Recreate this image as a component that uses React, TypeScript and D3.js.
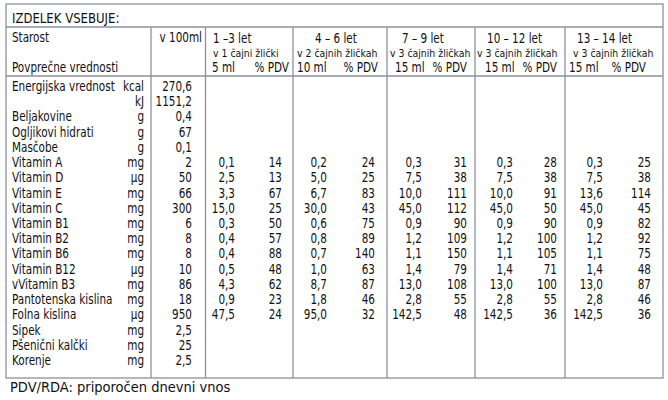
import * as React from "react";
import * as d3 from "d3";

const TITLE = "IZDELEK VSEBUJE:";
const FOOTNOTE = "PDV/RDA: priporočen dnevni vnos";

const NUTRIENTS = [
  "Energijska vrednost", "", "Beljakovine", "Ogljikovi hidrati", "Masčobe",
  "Vitamin A", "Vitamin D", "Vitamin E", "Vitamin C", "Vitamin B1", "Vitamin B2",
  "Vitamin B6", "Vitamin B12", "vVitamin B3", "Pantotenska kislina", "Folna kislina",
  "Sipek", "Pšenični kalčki", "Korenje",
];
const UNITS = [
  "kcal", "kJ", "g", "g", "g", "mg", "µg", "mg", "mg", "mg", "mg",
  "mg", "µg", "mg", "mg", "µg", "mg", "mg", "mg",
];
const PER_100ML = [
  "270,6", "1151,2", "0,4", "67", "0,1", "2", "50", "66", "300", "6", "8",
  "8", "10", "86", "18", "950", "2,5", "25", "2,5",
];

// vitamin rows (Vitamin A .. Folna kislina) start at this row
const FIRST_DOSE_ROW = 5;

const AGE_GROUPS = ["1 –3 let", "4 – 6 let", "7 – 9 let", "10 – 12 let", "13 – 14 let"];
const DOSES = ["v 1 čajni žlički", "v 2 čajnih žličkah", "v 3 čajnih žličkah", "v 3 čajnih žličkah", "v 3 čajnih žličkah"];
const VOLUMES = ["5 ml", "10 ml", "15 ml", "15 ml", "15 ml"];

const AMOUNT_1_3 = ["0,1", "2,5", "3,3", "15,0", "0,3", "0,4", "0,4", "0,5", "4,3", "0,9", "47,5"];
const PDV_1_3 = [14, 13, 67, 25, 50, 57, 88, 48, 62, 23, 24];
const AMOUNT_4_6 = ["0,2", "5,0", "6,7", "30,0", "0,6", "0,8", "0,7", "1,0", "8,7", "1,8", "95,0"];
const PDV_4_6 = [24, 25, 83, 43, 75, 89, 140, 63, 87, 46, 32];
const AMOUNT_7_9 = ["0,3", "7,5", "10,0", "45,0", "0,9", "1,2", "1,1", "1,4", "13,0", "2,8", "142,5"];
const PDV_7_9 = [31, 38, 111, 112, 90, 109, 150, 79, 108, 55, 48];
const AMOUNT_10_12 = ["0,3", "7,5", "10,0", "45,0", "0,9", "1,2", "1,1", "1,4", "13,0", "2,8", "142,5"];
const PDV_10_12 = [28, 38, 91, 50, 90, 100, 105, 71, 100, 55, 36];
const AMOUNT_13_14 = ["0,3", "7,5", "13,6", "45,0", "0,9", "1,2", "1,1", "1,4", "13,0", "2,8", "142,5"];
const PDV_13_14 = [25, 38, 114, 45, 82, 92, 75, 48, 87, 46, 36];

const AMOUNTS = [AMOUNT_1_3, AMOUNT_4_6, AMOUNT_7_9, AMOUNT_10_12, AMOUNT_13_14];
const PDVS = [PDV_1_3, PDV_4_6, PDV_7_9, PDV_10_12, PDV_13_14];

// layout
const W = 668;
const H = 400;
const FONT = "'DejaVu Sans Condensed', 'DejaVu Sans', sans-serif";
const LINE = "#8d90a0";
const box = { left: 6, right: 663, top: 4, bottom: 378 };
const titleY = 27;
const headY = 76;
const colLines = [151, 205.5, 293, 387, 475, 565];
const unitRight = 144;
const per100Right = 192;
// per group: amount right edge, pdv right edge, header line starts
const amountRight = [235, 327, 422, 513, 603];
const pdvRight = [282, 375, 467, 557, 651];
const ageX = [213, 315, 402, 487, 577];
const doseX = [213, 297, 390, 477, 573];
const volX = [212, 297, 395, 485, 569];
const pctRight = [289, 378, 467, 557, 646];

const BODY = 13.8;
const SX = 0.84;

// text squeezed horizontally to mimic the narrow face of the original
function T({ x, y, size = BODY, sx = SX, end = false, children }: {
  x: number; y: number; size?: number; sx?: number; end?: boolean; children: React.ReactNode;
}) {
  return (
    <text
      transform={`translate(${x},${y}) scale(${sx},1)`}
      fontSize={size}
      textAnchor={end ? "end" : "start"}
      fill="#111"
    >
      {children}
    </text>
  );
}

export default function App() {
  const rowY = d3
    .scaleLinear()
    .domain([0, NUTRIENTS.length - 1])
    .range([91, 365]);

  return (
    <div style={{ position: "absolute", left: 0, top: 0 }}>
      <svg width={W} height={H} style={{ display: "block", background: "#fff" }} fontFamily={FONT}>
        <g stroke={LINE} strokeWidth={1.3} fill="none">
          <rect x={box.left} y={box.top} width={box.right - box.left} height={box.bottom - box.top} />
          <line x1={box.left} x2={box.right} y1={titleY} y2={titleY} />
          <line x1={box.left} x2={box.right} y1={headY} y2={headY} />
          {colLines.map((x, i) => (
            <line key={i} x1={x} x2={x} y1={titleY} y2={box.bottom} />
          ))}
        </g>

        <T x={12} y={22.5} size={14} sx={0.93}>{TITLE}</T>

        {/* header */}
        <T x={12} y={42}>Starost</T>
        <T x={12} y={72}>Povprečne vrednosti</T>
        <T x={202} y={42} end>v 100ml</T>
        {AGE_GROUPS.map((a, i) => (
          <g key={a}>
            <T x={ageX[i]} y={42.5}>{a}</T>
            <T x={doseX[i]} y={56.5} size={10.6} sx={0.98}>{DOSES[i]}</T>
            <T x={volX[i]} y={72}>{VOLUMES[i]}</T>
            <T x={pctRight[i]} y={72} end>% PDV</T>
          </g>
        ))}

        {/* body */}
        {NUTRIENTS.map((n, i) => (
          <g key={i}>
            {n && <T x={12} y={rowY(i)}>{n}</T>}
            <T x={unitRight} y={rowY(i)} end>{UNITS[i]}</T>
            <T x={per100Right} y={rowY(i)} end>{PER_100ML[i]}</T>
          </g>
        ))}
        {AMOUNTS.map((col, g) => (
          <g key={g}>
            {col.map((v, j) => (
              <T key={"a" + j} x={amountRight[g]} y={rowY(FIRST_DOSE_ROW + j)} end>{v}</T>
            ))}
            {PDVS[g].map((v, j) => (
              <T key={"p" + j} x={pdvRight[g]} y={rowY(FIRST_DOSE_ROW + j)} end>{v}</T>
            ))}
          </g>
        ))}

        <T x={10} y={392} size={14.5} sx={1}>{FOOTNOTE}</T>
      </svg>
    </div>
  );
}
